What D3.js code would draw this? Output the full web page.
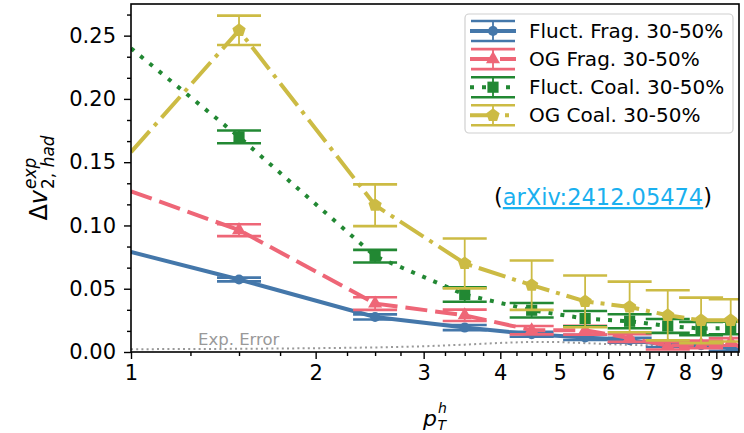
<!DOCTYPE html>
<html>
<head>
<meta charset="utf-8">
<script src="https://cdn.jsdelivr.net/npm/d3@7"></script>
<style>
  body { margin: 0; background: #fff; }
  svg { display: block; }
  text { font-family: "DejaVu Sans", sans-serif; }
</style>
</head>
<body>
<svg id="chart" width="744" height="433"></svg>
<script>
// pT bin centres where the model points carry error bars
const pT = [1.5, 2.5, 3.5, 4.5, 5.5, 6.5, 7.5, 8.5, 9.5];
// the curves also run out to these pT values at both ends
const curveEnds = [1, 10];

const fluctFrag      = [0.0573, 0.0277, 0.0193, 0.0140, 0.0115, 0.0093, 0.0060, 0.0053, 0.0030];
const fluctFragErr   = [0.0015, 0.0020, 0.0020, 0.0020, 0.0020, 0.0020, 0.0020, 0.0020, 0.0020];
const fluctFragEnds  = [0.079, 0.002];

const ogFrag         = [0.0963, 0.0383, 0.0290, 0.0172, 0.0172, 0.0110, 0.0050, 0.0060, 0.0080];
const ogFragErr      = [0.0047, 0.0050, 0.0045, 0.0033, 0.0035, 0.0030, 0.0030, 0.0030, 0.0030];
const ogFragEnds     = [0.127, 0.002];

const fluctCoal      = [0.1700, 0.0757, 0.0454, 0.0330, 0.0264, 0.0243, 0.0206, 0.0185, 0.0190];
const fluctCoalErr   = [0.0050, 0.0050, 0.0057, 0.0057, 0.0060, 0.0055, 0.0055, 0.0053, 0.0050];
const fluctCoalEnds  = [0.240, 0.018];

const ogCoal         = [0.2542, 0.1160, 0.0700, 0.0528, 0.0400, 0.0356, 0.0290, 0.0250, 0.0250];
const ogCoalErr      = [0.0116, 0.0165, 0.0197, 0.0195, 0.0205, 0.0200, 0.0198, 0.0180, 0.0167];
const ogCoalEnds     = [0.158, 0.024];

// experimental uncertainty band edge
const expErrX = [1, 1.5, 2, 2.5, 3, 3.5, 4, 4.5, 5, 5.5, 6, 7, 8, 9, 10];
const expErrY = [0.0022, 0.0025, 0.0030, 0.0036, 0.0045, 0.0058, 0.0072, 0.0080, 0.0078, 0.0070, 0.0062, 0.0052, 0.0044, 0.0038, 0.0034];

const seriesNames = ["Fluct. Frag. 30-50%", "OG Frag. 30-50%", "Fluct. Coal. 30-50%", "OG Coal. 30-50%"];

const xTicks = [1, 2, 3, 4, 5, 6, 7, 8, 9];
const xMinorTicks = d3.range(1, 10).flatMap(i => [i + 0.25, i + 0.5, i + 0.75]).filter(v => v < 9.8);
const yTicks = [0, 0.05, 0.10, 0.15, 0.20, 0.25];
const yMinorTicks = d3.range(0, 17).map(i => i * 0.05 / 3).filter((v, i) => i % 3 !== 0 && v < 0.275);

const svg = d3.select("#chart");
const M = { left: 131, right: 739, top: 4, bottom: 352 };

const x = d3.scaleLog().domain([1, 9.8]).range([M.left, M.right]);
const y = d3.scaleLinear().domain([0, 0.275]).range([M.bottom, M.top]);

svg.append("defs").append("clipPath").attr("id", "plotClip")
  .append("rect").attr("x", M.left).attr("y", M.top)
  .attr("width", M.right - M.left).attr("height", M.bottom - M.top);

const styles = [
  { color: "#4477AA", dash: null,         marker: "circle" },
  { color: "#EE6677", dash: "22 8",       marker: "triangle" },
  { color: "#228833", dash: "4 8",        marker: "square" },
  { color: "#CCBB44", dash: "28 7 4 7",   marker: "pentagon" }
];

const series = [
  { vals: fluctFrag, err: fluctFragErr, ends: fluctFragEnds },
  { vals: ogFrag,    err: ogFragErr,    ends: ogFragEnds },
  { vals: fluctCoal, err: fluctCoalErr, ends: fluctCoalEnds },
  { vals: ogCoal,    err: ogCoalErr,    ends: ogCoalEnds }
].map((s, i) => Object.assign(s, styles[i], { name: seriesNames[i] }));

function markerPath(kind) {
  if (kind === "circle") return d3.symbol(d3.symbolCircle, 80)();
  if (kind === "triangle") return d3.symbol(d3.symbolTriangle, 85)();
  if (kind === "square") return d3.symbol(d3.symbolSquare, 125)();
  // pentagon
  const r = 7;
  const pts = d3.range(5).map(k => {
    const a = -Math.PI / 2 + k * 2 * Math.PI / 5;
    return [r * Math.cos(a), r * Math.sin(a)];
  });
  return "M" + pts.map(p => p.join(",")).join("L") + "Z";
}

// experimental error curve
const plot = svg.append("g").attr("clip-path", "url(#plotClip)");
plot.append("path")
  .datum(expErrX.map((v, i) => [v, expErrY[i]]))
  .attr("fill", "none").attr("stroke", "#999").attr("stroke-width", 2)
  .attr("stroke-dasharray", "2 3.2")
  .attr("d", d3.line().x(d => x(d[0])).y(d => y(d[1])));

svg.append("text").attr("x", 198).attr("y", 345)
  .attr("font-size", 16.5).attr("fill", "#999").text("Exp. Error");

const line = d3.line().x(d => x(d[0])).y(d => y(d[1]));
const capHalf = 22;

series.forEach(s => {
  const pts = [[curveEnds[0], s.ends[0]]]
    .concat(pT.map((p, i) => [p, s.vals[i]]))
    .concat([[curveEnds[1], s.ends[1]]]);
  const g = plot.append("g");
  g.append("path").datum(pts)
    .attr("fill", "none").attr("stroke", s.color).attr("stroke-width", 4)
    .attr("stroke-dasharray", s.dash)
    .attr("d", line);
  pT.forEach((p, i) => {
    const cx = x(p), lo = y(s.vals[i] - s.err[i]), hi = y(s.vals[i] + s.err[i]);
    g.append("line").attr("x1", cx).attr("x2", cx).attr("y1", lo).attr("y2", hi)
      .attr("stroke", s.color).attr("stroke-width", 1.8);
    [lo, hi].forEach(yy => g.append("line")
      .attr("x1", cx - capHalf).attr("x2", cx + capHalf).attr("y1", yy).attr("y2", yy)
      .attr("stroke", s.color).attr("stroke-width", 2.6));
    g.append("path").attr("d", markerPath(s.marker))
      .attr("transform", `translate(${cx},${y(s.vals[i])})`)
      .attr("fill", s.color);
  });
});

// axes
const axisFont = 21;
const yAxis = svg.append("g").attr("transform", `translate(${M.left},0)`)
  .call(d3.axisLeft(y).tickValues(yTicks).tickFormat(d3.format(".2f")).tickSize(7).tickPadding(8));
const yMinor = svg.append("g").attr("transform", `translate(${M.left},0)`)
  .call(d3.axisLeft(y).tickValues(yMinorTicks).tickFormat("").tickSize(4));
const xAxis = svg.append("g").attr("transform", `translate(0,${M.bottom})`)
  .call(d3.axisBottom(x).tickValues(xTicks).tickFormat(d3.format("d")).tickSize(7).tickPadding(6));
const xMinor = svg.append("g").attr("transform", `translate(0,${M.bottom})`)
  .call(d3.axisBottom(x).tickValues(xMinorTicks).tickFormat("").tickSize(4));

[yAxis, yMinor, xAxis, xMinor].forEach(a => {
  a.select(".domain").remove();
  a.selectAll("line").attr("stroke", "#000").attr("stroke-width", 1.4);
  a.selectAll("text").attr("font-size", axisFont).attr("fill", "#000")
    .attr("font-family", "DejaVu Sans");
});

svg.append("rect").attr("x", M.left).attr("y", M.top)
  .attr("width", M.right - M.left).attr("height", M.bottom - M.top)
  .attr("fill", "none").attr("stroke", "#000").attr("stroke-width", 1.6);

// y label: Δv^{exp}_{2,had}
const yl = svg.append("g");
const yMain = yl.append("text").attr("font-size", 24);
yMain.append("tspan").text("Δ");
yMain.append("tspan").attr("font-style", "italic").text("v");
const wMain = yMain.node().getComputedTextLength();
const ySup = yl.append("text").attr("font-size", 17).attr("font-style", "italic")
  .attr("x", wMain + 1).attr("y", -11.5).text("exp");
const ySub = yl.append("text").attr("font-size", 17).attr("x", wMain + 1).attr("y", 6.5);
ySub.append("tspan").text("2, ");
ySub.append("tspan").attr("font-style", "italic").text("had");
const yTot = wMain + 1 + Math.max(ySup.node().getComputedTextLength(), ySub.node().getComputedTextLength());
yl.attr("transform", `translate(47,${(M.top + M.bottom) / 2}) rotate(-90) translate(${-yTot / 2},0)`);

// x label: p_T^h
const xl = svg.append("g");
const xMain = xl.append("text").attr("font-size", 22).attr("font-style", "italic").text("p");
const wp = xMain.node().getComputedTextLength();
const xSup = xl.append("text").attr("font-size", 14).attr("font-style", "italic")
  .attr("x", wp + 1).attr("y", -12.5).text("h");
const xSub = xl.append("text").attr("font-size", 14).attr("font-style", "italic")
  .attr("x", wp + 0.5).attr("y", 4).text("T");
const xTot = wp + 1 + Math.max(xSup.node().getComputedTextLength(), xSub.node().getComputedTextLength());
xl.attr("transform", `translate(${(M.left + M.right) / 2 - xTot / 2},425.5)`);

// reference link
const ref = svg.append("text").attr("x", 603).attr("y", 205)
  .attr("text-anchor", "middle").attr("font-size", 22.5);
ref.append("tspan").text("(");
ref.append("tspan").attr("fill", "#1ab0ef").attr("text-decoration", "underline").text("arXiv:2412.05474");
ref.append("tspan").text(")");

// legend
const lg = svg.append("g");
lg.append("rect").attr("x", 465).attr("y", 14).attr("width", 268).attr("height", 119)
  .attr("rx", 4).attr("fill", "#fff").attr("fill-opacity", 0.85)
  .attr("stroke", "#d0d0d0").attr("stroke-width", 1.2);
series.forEach((s, i) => {
  const cy = 31 + i * 28.1;
  const h = lg.append("g");
  h.append("line").attr("x1", 470).attr("x2", 516).attr("y1", cy).attr("y2", cy)
    .attr("stroke", s.color).attr("stroke-width", 4).attr("stroke-dasharray", s.dash);
  [cy - 10, cy + 10].forEach(yy => h.append("line")
    .attr("x1", 471).attr("x2", 515).attr("y1", yy).attr("y2", yy)
    .attr("stroke", s.color).attr("stroke-width", 2.6));
  h.append("line").attr("x1", 493).attr("x2", 493).attr("y1", cy - 10).attr("y2", cy + 10)
    .attr("stroke", s.color).attr("stroke-width", 1.8);
  h.append("path").attr("d", markerPath(s.marker))
    .attr("transform", `translate(493,${cy})`).attr("fill", s.color);
  lg.append("text").attr("x", 529).attr("y", cy + 7)
    .attr("font-size", 20).attr("fill", "#000").text(s.name);
});
</script>
</body>
</html>
